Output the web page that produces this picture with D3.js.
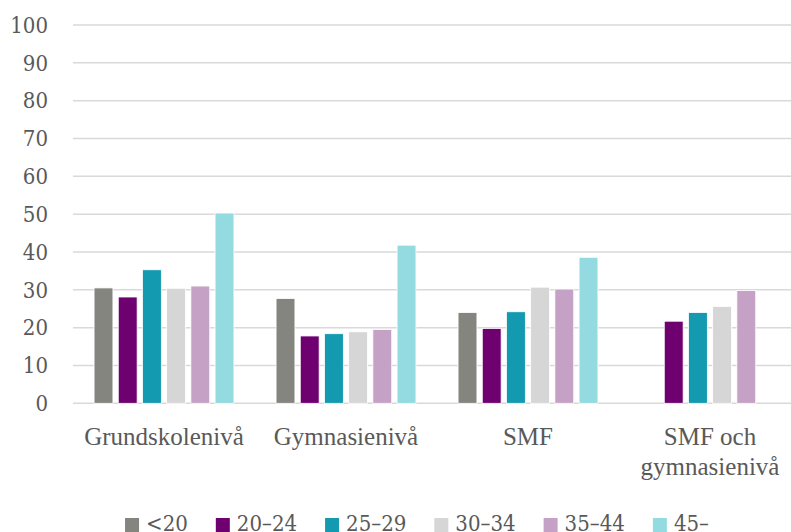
<!DOCTYPE html>
<html>
<head>
<meta charset="utf-8">
<script src="https://cdn.jsdelivr.net/npm/d3@7"></script>
<style>
  body { margin: 0; background: #fff; }
</style>
</head>
<body>
<div id="chart"></div>
<script>
// Data
const categories = ['Grundskolenivå', 'Gymnasienivå', 'SMF', 'SMF och\ngymnasienivå'];
const seriesNames = ['<20', '20\u201324', '25\u201329', '30\u201334', '35\u201344', '45\u2013'];
const seriesColors = ['#858580', '#6e0070', '#139ab0', '#d6d6d6', '#c5a2c5', '#93dbe0'];
// one array per series, one value per category (null = no bar)
const vUnder20 = [30.5, 27.7, 24.0, null];
const v20to24 = [28.1, 17.8, 19.8, 21.7];
const v25to29 = [35.3, 18.4, 24.2, 24.0];
const v30to34 = [30.4, 18.9, 30.7, 25.6];
const v35to44 = [31.0, 19.5, 30.2, 29.8];
const v45plus = [50.3, 41.8, 38.6, null];
const seriesValues = [vUnder20, v20to24, v25to29, v30to34, v35to44, v45plus];
const yTicks = [0, 10, 20, 30, 40, 50, 60, 70, 80, 90, 100];

const W = 791, H = 532;
const plot = { left: 73, right: 801, top: 25, bottom: 403.3 };
const FONT = '"Liberation Serif", serif';
const NUMFONT = '"DejaVu Serif Condensed", "DejaVu Serif", serif';
const TEXT = '#595959';

const svg = d3.select('#chart').append('svg')
  .attr('width', W).attr('height', H)
  .style('font-family', FONT);

const x0 = d3.scaleBand().domain(categories).range([plot.left, plot.right]);
const x1 = d3.scaleBand().domain(seriesNames).range([0, x0.bandwidth()])
  .paddingInner(0.22).paddingOuter(0.87);
const y = d3.scaleLinear().domain([0, 100]).range([plot.bottom, plot.top]);

// gridlines
svg.append('g').selectAll('line')
  .data(yTicks)
  .join('line')
  .attr('x1', plot.left).attr('x2', plot.right)
  .attr('y1', d => y(d)).attr('y2', d => y(d))
  .attr('stroke', '#d9d9d9').attr('stroke-width', 1.5);

// y axis labels
const yAxis = svg.append('g')
  .attr('transform', `translate(${plot.left - 25},0)`)
  .call(d3.axisLeft(y).tickValues(yTicks).tickSize(0).tickPadding(0));
yAxis.attr('font-family', null).attr('font-size', null);
yAxis.select('.domain').remove();
yAxis.selectAll('text')
  .style('font-family', NUMFONT)
  .style('font-stretch', 'condensed')
  .style('font-size', '22px')
  .style('fill', TEXT)
  .attr('dy', '0.33em');

// bars
const rows = [];
seriesNames.forEach((s, i) => {
  categories.forEach((c, j) => {
    const v = seriesValues[i][j];
    if (v != null) rows.push({ cat: c, series: s, value: v, color: seriesColors[i] });
  });
});

svg.append('g').selectAll('rect')
  .data(rows)
  .join('rect')
  .attr('x', d => x0(d.cat) + x1(d.series))
  .attr('y', d => y(d.value))
  .attr('width', x1.bandwidth())
  .attr('height', d => y(0) - y(d.value))
  .attr('fill', d => d.color)
  .attr('stroke', '#fff')
  .attr('stroke-width', 0.8);

// category labels
const catG = svg.append('g');
categories.forEach(c => {
  const cx = x0(c) + x0.bandwidth() / 2;
  const t = catG.append('text')
    .attr('x', cx)
    .attr('y', 445)
    .attr('text-anchor', 'middle')
    .style('font-family', FONT)
    .style('font-size', '25px')
    .style('fill', TEXT);
  c.split('\n').forEach((ln, k) => {
    t.append('tspan')
      .attr('x', cx)
      .attr('dy', k === 0 ? 0 : 30)
      .text(ln);
  });
});

// legend
const legend = svg.append('g');
const items = seriesNames.map((s, i) => {
  const g = legend.append('g');
  g.append('rect').attr('x', 0).attr('y', -13).attr('width', 14).attr('height', 14)
    .attr('fill', seriesColors[i]);
  const t = g.append('text').attr('x', 21).attr('y', 0)
    .style('font-family', NUMFONT)
    .style('font-stretch', 'condensed')
    .style('font-size', '22px')
    .style('fill', TEXT)
    .text(s);
  return { g, w: 21 + t.node().getComputedTextLength() };
});
const gap = 28;
const total = d3.sum(items, d => d.w) + gap * (items.length - 1);
let lx = 417 - total / 2;
items.forEach(it => {
  it.g.attr('transform', `translate(${lx},531)`);
  lx += it.w + gap;
});
</script>
</body>
</html>
